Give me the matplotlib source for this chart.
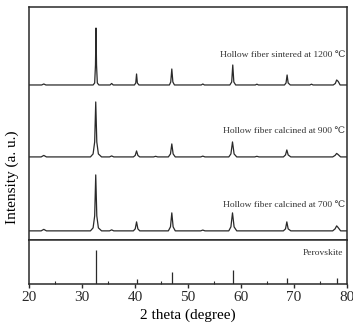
import numpy as np
import matplotlib
matplotlib.use("Agg")
import matplotlib.pyplot as plt
from matplotlib.ticker import MultipleLocator

plt.rcParams['font.family'] = ['Liberation Serif', 'DejaVu Serif']

# XRD patterns: (2theta, intensity above own baseline)
pattern_1200 = [(20, 0), (22.4, 0), (22.8, 1), (23.2, 0),
                (32.1, 0), (32.4, 2), (32.55, 20), (32.65, 57), (32.75, 20), (32.9, 2), (33.2, 0),
                (35.3, 0), (35.6, 1.5), (35.9, 0),
                (39.9, 0), (40.15, 2), (40.3, 11), (40.45, 2), (40.75, 0),
                (46.5, 0), (46.75, 3), (46.95, 16), (47.15, 3), (47.45, 0),
                (52.5, 0), (52.8, 1), (53.1, 0),
                (57.9, 0), (58.25, 3), (58.45, 20), (58.65, 3), (59.0, 0),
                (62.7, 0), (63.0, 0.8), (63.3, 0),
                (68.2, 0), (68.5, 2), (68.7, 10), (68.9, 2), (69.3, 0),
                (73.0, 0), (73.3, 0.8), (73.6, 0),
                (77.4, 0), (77.8, 1.5), (78.05, 5), (78.25, 4), (78.35, 3.5), (78.7, 0), (80, 0)]

pattern_900 = [(20, 0), (22.3, 0), (22.8, 1.5), (23.3, 0),
               (31.6, 0), (32.1, 3), (32.4, 15), (32.6, 55), (32.8, 15), (33.1, 3), (33.7, 0),
               (35.2, 0), (35.6, 1), (36.0, 0),
               (39.7, 0), (40.05, 1.5), (40.3, 6), (40.55, 1.5), (40.9, 0),
               (43.5, 0), (43.9, 0.6), (44.3, 0),
               (46.3, 0), (46.7, 3), (46.95, 13), (47.2, 3), (47.6, 0),
               (52.4, 0), (52.8, 0.8), (53.2, 0),
               (57.7, 0), (58.1, 3), (58.4, 15), (58.7, 3), (59.2, 0),
               (62.6, 0), (63.0, 0.6), (63.4, 0),
               (68.0, 0), (68.4, 2), (68.65, 7), (68.9, 2), (69.4, 0),
               (77.3, 0), (77.75, 1.5), (78.05, 3.5), (78.3, 2.5), (78.8, 0), (80, 0)]

pattern_700 = [(20, 0), (22.3, 0), (22.8, 1.5), (23.3, 0),
               (31.6, 0), (32.1, 3), (32.4, 15), (32.6, 56), (32.8, 15), (33.1, 3), (33.7, 0),
               (35.2, 0), (35.6, 1), (36.0, 0),
               (39.7, 0), (40.05, 2), (40.3, 9), (40.55, 2), (40.9, 0),
               (46.3, 0), (46.7, 4), (46.95, 18), (47.2, 4), (47.6, 0),
               (52.4, 0), (52.8, 0.8), (53.2, 0),
               (57.7, 0), (58.1, 4), (58.4, 18), (58.7, 4), (59.2, 0),
               (68.0, 0), (68.4, 2), (68.65, 9), (68.9, 2), (69.4, 0),
               (77.3, 0), (77.75, 2), (78.05, 5), (78.3, 3.5), (78.8, 0), (80, 0)]

labels = ["Hollow fiber sintered at 1200 \u2103",
          "Hollow fiber calcined at 900 \u2103",
          "Hollow fiber calcined at 700 \u2103"]
offsets = [155, 83, 9]
label_gap = [30, 26, 26]

# reference perovskite sticks
ref_pos = [32.7, 40.4, 46.9, 58.5, 68.7, 78.1]
ref_int = [33.5, 4.7, 12.3, 14, 6.3, 5.7]

col = '#2a2a2a'
fig = plt.figure(figsize=(3.53, 3.35), dpi=100)
ax1 = fig.add_axes([0.082, 0.284, 0.901, 0.695])
ax2 = fig.add_axes([0.082, 0.152, 0.901, 0.132], sharex=ax1)

for pat, off, lab, g in zip([pattern_1200, pattern_900, pattern_700], offsets, labels, label_gap):
    x, y = zip(*pat)
    ax1.plot(x, np.array(y) + off, color=col, lw=0.9)
    ax1.text(79.6, off + g, lab, ha='right', va='center', fontsize=6.8, color='#333333')

ax1.set_ylim(0, 233)
ax1.set_xlim(20, 80)
ax1.set_yticks([])
ax1.tick_params(axis='x', which='both', bottom=False, labelbottom=False)

ax2.vlines(ref_pos, 0, ref_int, color=col, lw=0.9)
ax2.text(79.2, 31, "Perovskite", ha='right', va='center', fontsize=6.8, color='#333333')
ax2.set_ylim(0, 44)
ax2.set_yticks([])
ax2.xaxis.set_major_locator(MultipleLocator(10))
ax2.xaxis.set_minor_locator(MultipleLocator(5))
ax2.tick_params(axis='x', which='major', direction='out', length=3, width=1, labelsize=11, pad=2, colors=col)
ax2.tick_params(axis='x', which='minor', direction='in', length=2.5, width=0.8, colors=col)
ax2.set_xlabel("2 theta (degree)", fontsize=11, labelpad=3)

for ax in (ax1, ax2):
    for s in ax.spines.values():
        s.set_linewidth(1.1)
        s.set_color(col)

fig.text(0.035, 0.47, "Intensity (a. u.)", rotation=90, ha='center', va='center', fontsize=11)

fig.savefig("out.png", dpi=100)
